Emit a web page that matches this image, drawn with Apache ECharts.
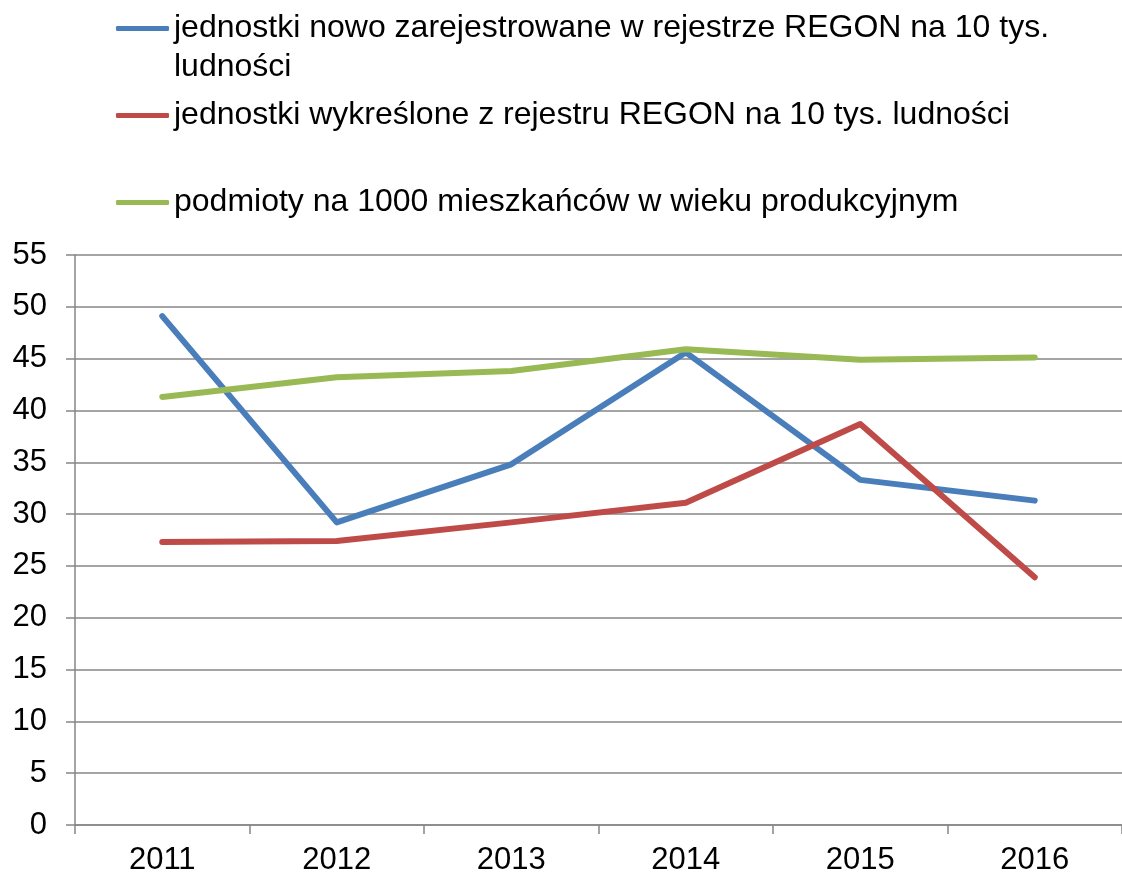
<!DOCTYPE html>
<html>
<head>
<meta charset="utf-8">
<script src="https://cdn.jsdelivr.net/npm/echarts@6/dist/echarts.min.js"></script>
<style>
  html, body { margin: 0; padding: 0; background: #fff; }
  #main { width: 1122px; height: 876px; }
</style>
</head>
<body>
<div id="main"></div>
<script>
// dane
var years = ['2011', '2012', '2013', '2014', '2015', '2016'];
var nowe = [49.1, 29.2, 34.8, 45.6, 33.3, 31.3];
var wykreslone = [27.3, 27.4, 29.2, 31.1, 38.7, 23.9];
var podmioty = [41.3, 43.2, 43.8, 45.9, 44.9, 45.1];
var yTicks = [0, 55, 5]; // min, max, interval

var names = [
    'jednostki nowo zarejestrowane w rejestrze REGON na 10 tys. ludności',
    'jednostki wykreślone z rejestru REGON na 10 tys. ludności',
    'podmioty na 1000 mieszkańców w wieku produkcyjnym'
];
var colors = ['#4A7EBB', '#BE4B48', '#98B954'];

var myChart = echarts.init(document.getElementById('main'));

var font = '"Liberation Sans", Arial, sans-serif';
var gray = '#868686';

function legendItem(i, top) {
    return {
        data: [names[i]],
        left: 116,
        top: top,
        orient: 'vertical',
        padding: 0,
        icon: 'roundRect',
        itemWidth: 53,
        itemHeight: 5,
        selectedMode: false,
        textStyle: { fontFamily: font, fontSize: 32, color: '#000', lineHeight: 37 },
        formatter: function (n) {
            // pierwsza pozycja zawija się – druga linia jako osobny tekst
            return n === names[0] ? 'jednostki nowo zarejestrowane w rejestrze REGON na 10 tys.' : n;
        }
    };
}

var option = {
    animation: false,
    color: colors,
    legend: [
        legendItem(0, 10),
        legendItem(1, 97),
        legendItem(2, 184)
    ],
    graphic: [{
        type: 'text',
        left: 174,
        top: 51,
        style: { text: 'ludności', font: '32px ' + font, fill: '#000' }
    }],
    grid: { left: 75, right: -11, top: 255, bottom: 49, containLabel: false },
    xAxis: {
        type: 'category',
        data: years,
        boundaryGap: true,
        axisLine: { lineStyle: { color: gray, width: 1.5 } },
        axisTick: { show: true, length: 9, interval: 0, lineStyle: { color: gray, width: 1.5 } },
        axisLabel: { color: '#000', fontFamily: font, fontSize: 31, margin: 20 },
        splitLine: { show: false }
    },
    yAxis: {
        type: 'value',
        min: yTicks[0],
        max: yTicks[1],
        interval: yTicks[2],
        axisLine: { show: true, lineStyle: { color: gray, width: 1.5 } },
        axisTick: { show: true, length: 9, lineStyle: { color: gray, width: 1.5 } },
        axisLabel: { color: '#000', fontFamily: font, fontSize: 31, margin: 28 },
        splitLine: { show: true, lineStyle: { color: gray, width: 1.5 } }
    },
    series: [
        { name: names[0], type: 'line', data: nowe },
        { name: names[1], type: 'line', data: wykreslone },
        { name: names[2], type: 'line', data: podmioty }
    ].map(function (s, i) {
        s.symbol = 'none';
        s.lineStyle = { width: 6, color: colors[i], cap: 'round', join: 'round' };
        s.itemStyle = { color: colors[i] };
        return s;
    })
};

myChart.setOption(option);
</script>
</body>
</html>
